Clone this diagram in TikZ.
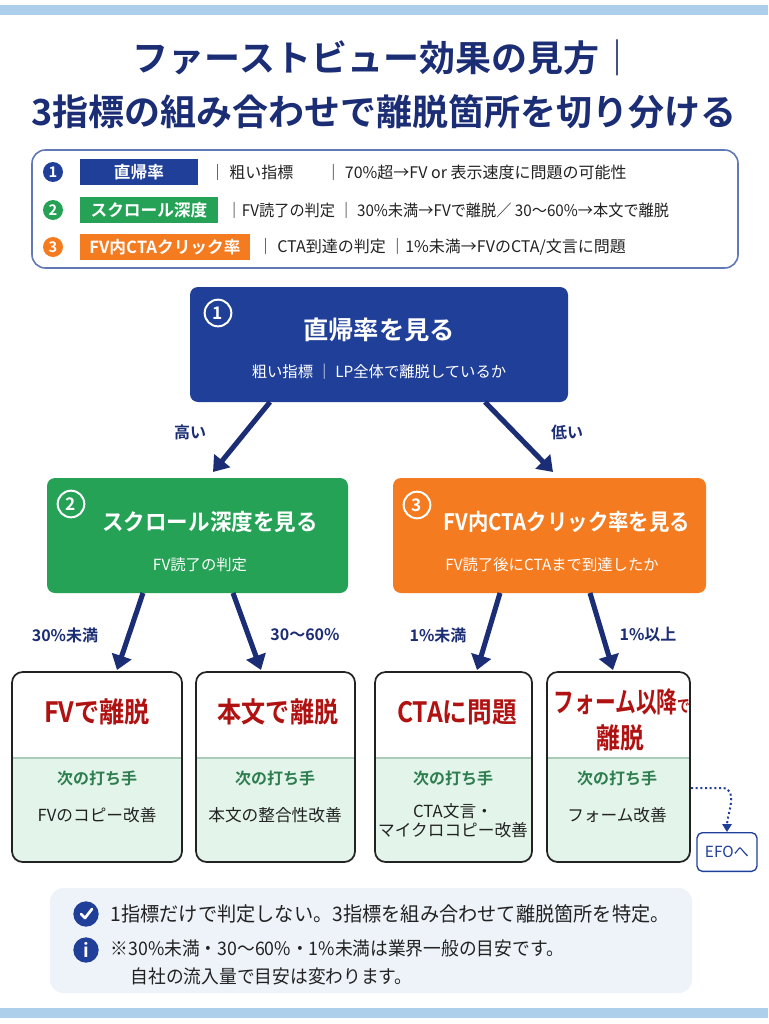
\documentclass[tikz,border=0pt]{standalone}
\usepackage{fontspec}
\setmainfont{Noto Sans CJK JP}[BoldFont={Noto Sans CJK JP Bold}]
\usetikzlibrary{arrows.meta}
\definecolor{navy}{HTML}{1B2D74}
\definecolor{nblue}{HTML}{1F3F99}
\definecolor{ngreen}{HTML}{25A256}
\definecolor{norange}{HTML}{F47B20}
\definecolor{lgreen}{HTML}{E3F5EA}
\definecolor{dred}{HTML}{B01212}
\definecolor{tgreen}{HTML}{2E7D4F}
\definecolor{bar}{HTML}{AECFEC}
\definecolor{panel}{HTML}{EEF3FA}
\definecolor{txt}{HTML}{222222}
\newcommand{\nar}[2]{\scalebox{#1}[1]{#2}}
\tikzset{
  fs/.style={font=\fontsize{#1}{#1}\selectfont},
  fb/.style={font=\fontsize{#1}{#1}\selectfont\bfseries},
  arr/.style={draw=navy,line width=3.8pt,-{Triangle[length=11pt,width=15pt]}},
  lbl/.style={text=navy,font=\fontsize{12}{12}\selectfont\bfseries},
  numc/.style={circle,draw=white,line width=1.5pt,text=white,inner sep=0pt,minimum size=20pt,font=\fontsize{13}{13}\selectfont\bfseries},
  legc/.style={circle,fill=#1,text=white,inner sep=0pt,minimum size=15pt,font=\fontsize{11}{11}\selectfont\bfseries},
  legt/.style={fill=#1,text=white,inner sep=0pt,minimum height=20pt,font=\fontsize{12.5}{12.5}\selectfont\bfseries,anchor=west},
  res/.style={draw=txt,line width=1.3pt,rounded corners=8pt},
}
\begin{document}
\begin{tikzpicture}[x=0.75pt,y=-0.75pt]
\useasboundingbox (0,0) rectangle (768,1024);
\fill[white] (0,0) rectangle (768,1024);
\fill[bar] (0,5) rectangle (768,15);
\fill[bar] (0,1008) rectangle (768,1018);
% title
\node[text=navy,fb=27] (t1) at (384,58) {ファーストビュー効果の見方｜};
\node[text=navy,fb=27] (t2) at (384,112) {3指標の組み合わせで離脱箇所を切り分ける};
% legend
\draw[draw=nblue!70,line width=1.2pt,rounded corners=10pt,fill=white] (32,150) rectangle (738,268);
\node[legc=nblue] (l1) at (53,172) {1};
\node[legc=ngreen] (l2) at (53,210) {2};
\node[legc=norange] (l3) at (53,247) {3};
\node[legt=nblue,minimum width=88pt] (k1) at (80,172) {直帰率};
\node[legt=ngreen,minimum width=103pt] (k2) at (80,210) {スクロール深度};
\node[legt=norange,minimum width=127pt] (k3) at (80,247) {FV内CTAクリック率};
\begin{scope}[every node/.style={anchor=west,text=txt,fs=12}]
\node (d1) at (205,172) {｜ 粗い指標　　｜ 70\%超→FV or 表示速度に問題の可能性};
\node (d2) at (222,210) {\nar{0.95}{｜FV読了の判定 ｜ 30\%未満→FVで離脱／ 30〜60\%→本文で離脱}};
\node (d3) at (253,247) {｜ CTA到達の判定 ｜1\%未満→FVのCTA/文言に問題};
\end{scope}
% node1
\fill[nblue,rounded corners=6pt] (190,287) rectangle (568,402);
\node[numc] (n1c) at (218,313) {1};
\node[text=white,fb=19] (n1) at (379,330) {直帰率を見る};
\node[text=white,fs=11.5] (n1s) at (379,372) {粗い指標 ｜ LP全体で離脱しているか};
\coordinate (a1s) at (270,402); \coordinate (a1e) at (213,472);
\coordinate (a2s) at (485,402); \coordinate (a2e) at (553,472);
\draw[arr] (a1s) -- (a1e);
\draw[arr] (a2s) -- (a2e);
\node[lbl] (h) at (190,432) {高い};
\node[lbl] (lo) at (567,432) {低い};
% node2
\fill[ngreen,rounded corners=6pt] (47,478) rectangle (348,593);
\node[numc] (n2c) at (71,504) {2};
\node[text=white,fb=17] (n2) at (210,522) {\nar{0.95}{スクロール深度を見る}};
\node[text=white,fs=11.5] (n2s) at (200,565) {FV読了の判定};
% node3
\fill[norange,rounded corners=6pt] (393,478) rectangle (706,593);
\node[numc] (n3c) at (417,505) {3};
\node[text=white,fb=17] (n3) at (567,522) {\nar{0.9}{FV内CTAクリック率を見る}};
\node[text=white,fs=11.5] (n3s) at (552,565) {FV読了後にCTAまで到達したか};
% second arrows
\coordinate (b1s) at (143,593); \coordinate (b1e) at (117,670);
\coordinate (b2s) at (233,593); \coordinate (b2e) at (261,670);
\coordinate (b3s) at (500,593); \coordinate (b3e) at (477,670);
\coordinate (b4s) at (590,593); \coordinate (b4e) at (613,670);
\foreach \s/\e in {b1s/b1e,b2s/b2e,b3s/b3e,b4s/b4e} \draw[arr] (\s) -- (\e);
\node[lbl] (c1) at (65,635) {30\%未満};
\node[lbl] (c2) at (305,635) {30〜60\%};
\node[lbl] (c3) at (438,635) {1\%未満};
\node[lbl] (c4) at (648,635) {1\%以上};
% result boxes
\foreach \xa/\xb in {12/182,196/355,375/532,547/690}{
  \begin{scope}
  \clip[rounded corners=8pt] (\xa,672) rectangle (\xb,862);
  \fill[lgreen] (\xa,758) rectangle (\xb,862);
  \end{scope}
  \draw[tgreen!40,line width=0.8pt] (\xa,758) -- (\xb,758);
  \draw[res] (\xa,672) rectangle (\xb,862);
}
\begin{scope}[every node/.style={text=dred,fb=21}]
\node (r1) at (97,712) {\nar{0.9}{FVで離脱}};
\node (r2) at (278,712) {\nar{0.86}{本文で離脱}};
\node (r3) at (457,712) {\nar{0.88}{CTAに問題}};
\node (r4a) at (622,702) {\nar{0.74}{フォーム以降\fontsize{13}{13}\selectfont で}};
\node (r4b) at (620,738) {\nar{0.85}{離脱}};
\end{scope}
\begin{scope}[every node/.style={text=tgreen,fb=12}]
\node (s1) at (97,778) {次の打ち手};
\node (s2) at (275,778) {次の打ち手};
\node (s3) at (453,778) {次の打ち手};
\node (s4) at (617,778) {次の打ち手};
\end{scope}
\begin{scope}[every node/.style={text=txt,fs=12.5}]
\node (p1) at (97,815) {FVのコピー改善};
\node (p2) at (275,815) {本文の整合性改善};
\node[align=center] (p3) at (453,821) {CTA文言・\\[2pt]マイクロコピー改善};
\node (p4) at (617,815) {フォーム改善};
\end{scope}
% EFO
\node[draw=nblue,line width=1pt,rounded corners=4pt,fill=white,text=nblue,fs=11.5,minimum width=45pt,minimum height=29pt] (efo) at (727,852) {EFOへ};
\coordinate (e0) at (691,788);
\draw[nblue,line width=1.5pt,dotted,-{Triangle[length=6pt,width=7pt]}] (e0) -- (722,788) to[out=0,in=90] (efo.north);
% bottom panel
\fill[panel,rounded corners=10pt] (50,888) rectangle (692,993);
\node[circle,fill=nblue,minimum size=19pt,inner sep=0pt] (ck) at (86,914) {};
\draw[white,line width=2pt,line cap=round,line join=round] ([shift={(-5,0)}]ck.center) -- ([shift={(-1,4)}]ck.center) -- ([shift={(6,-5)}]ck.center);
\node[anchor=west,text=txt,fs=15] (m1) at (106,914) {\nar{0.96}{1指標だけで判定しない。3指標を組み合わせて離脱箇所を特定。}};
\node[circle,fill=nblue,text=white,minimum size=19pt,inner sep=0pt,fb=14] (ic) at (86,950) {i};
\node[anchor=west,text=txt,fs=14] (m2) at (106,948) {\nar{0.95}{※30\%未満・30〜60\%・1\%未満は業界一般の目安です。}};
\node[anchor=west,text=txt,fs=14] (m3) at (126,976) {\nar{0.95}{自社の流入量で目安は変わります。}};
\end{tikzpicture}
\end{document}
